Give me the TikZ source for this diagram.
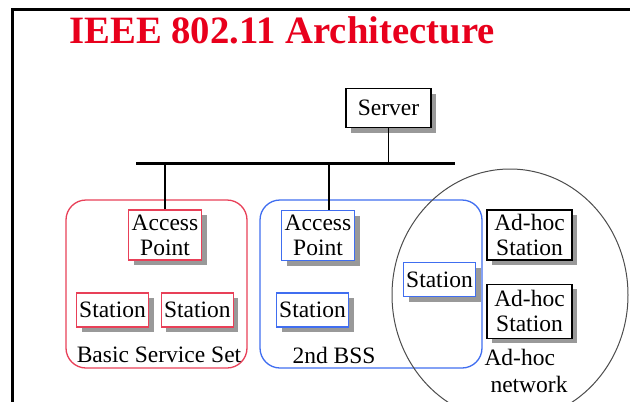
\documentclass[tikz,border=0pt]{standalone}
\usepackage{fontspec}
\newfontfamily\titlefont{Liberation Serif}
\newfontfamily\diagfont{Liberation Serif}[UprightFont=*, BoldFont=* Bold]
\usetikzlibrary{positioning,shadows}

\definecolor{bssred}{RGB}{232,64,88}
\definecolor{bssblue}{RGB}{64,110,240}
\definecolor{titlered}{RGB}{232,0,28}

\tikzset{
	unit/.style={draw, fill=white, line width=1.3pt, inner sep=0pt, align=center,
		font=\diagfont\fontsize{23.5}{25}\selectfont,
		drop shadow={shadow xshift=5pt, shadow yshift=-5pt, fill=black!40, opacity=1}},
	redunit/.style={unit, draw=bssred},
	blueunit/.style={unit, draw=bssblue},
	stabox/.style={minimum width=72pt, minimum height=34pt},
	apbox/.style={minimum width=73pt, minimum height=50pt},
	bssline/.style={line width=1.3pt, rounded corners=20pt},
	setname/.style={font=\diagfont\fontsize{23.5}{27}\selectfont, align=center, inner sep=0pt},
}

\begin{document}
\begin{tikzpicture}[x=1pt, y=-1pt]
	\useasboundingbox (0,0) rectangle (630,402);
	\clip (0,0) rectangle (630,402);
	
	% frame and title
	\draw[line width=3pt] (12,402) -- (12,9.5) -- (630,9.5);
	\node[font=\titlefont\fontsize{38.7}{40}\selectfont\bfseries, text=titlered] (title) at (282,30) {IEEE 802.11 Architecture};
	
	% backbone
	\coordinate (busW) at (136,163);
	\coordinate (busE) at (455,163);
	\coordinate (tap2) at (329,163);
	\draw[line width=3pt] (busW) -- (busE);
	
	% service sets
	\draw[bssline, draw=bssred] (66,200) rectangle (247,368);
	\draw[bssline, draw=bssblue] (260,200) rectangle (482,368);
	\draw[line width=1pt, black!70] (510,295) ellipse [x radius=118pt, y radius=126pt];
	
	\node[unit, minimum width=85pt, minimum height=39pt] (srv) at (388.5,108) {Server};
	
	\node[redunit, apbox] (ap1) at (165,235) {Access\\Point};
	\node[redunit, stabox] (sta1) at (112.5,310) {Station};
	\node[redunit, stabox, right=11.5pt of sta1] (sta2) {Station};
	\node[setname] (bss1) at (159,355) {Basic Service Set};
	
	\node[blueunit, apbox] (ap2) at (318,235.5) {Access\\Point};
	\node[blueunit, stabox] (sta3) at (312.5,310) {Station};
	\node[blueunit, stabox] (sta4) at (439.5,279.5) {Station};
	\node[setname] (bss2) at (334,355) {2nd BSS};
	
	\node[unit, minimum width=85pt, minimum height=50pt] (adh1) at (529.5,235) {Ad-hoc\\Station};
	\node[unit, minimum width=85pt, minimum height=54pt, below=23pt of adh1] (adh2) {Ad-hoc\\Station};
	\node[setname, align=left] (adnet) at (526,371) {Ad-hoc\\\hspace*{6pt}network};
	
	% drops to the backbone
	\draw[line width=1.3pt] (srv) -- (srv |- busW);
	\draw[line width=1.3pt] (ap1) -- (ap1 |- busW);
	\draw[line width=1.3pt] (tap2) -- (tap2 |- ap2.north);
\end{tikzpicture}
\end{document}
